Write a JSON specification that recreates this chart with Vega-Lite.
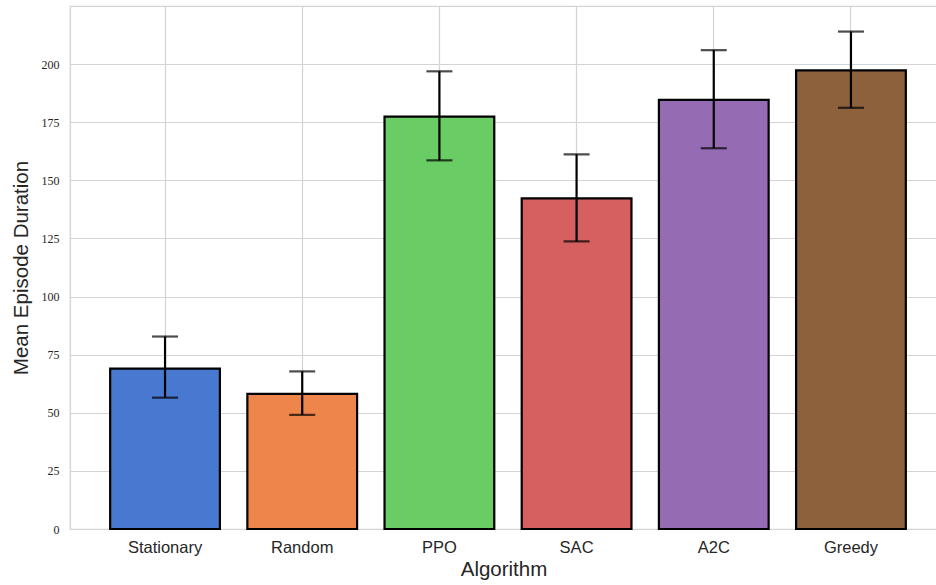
{
  "$schema": "https://vega.github.io/schema/vega-lite/v6.json",
  "width": 867,
  "height": 523,
  "autosize": {"type": "none"},
  "padding": {"left": 70, "top": 6, "right": 0, "bottom": 56},
  "background": "white",
  "config": {
    "view": {"stroke": "#d4d4d4", "strokeWidth": 1.2},
    "axis": {
      "domainColor": "#d4d4d4",
      "domainWidth": 1.2,
      "gridColor": "#d4d4d4",
      "gridWidth": 1.2,
      "ticks": false
    }
  },
  "data": {
    "values": [
      {"Algorithm": "Stationary", "mean": 69.0, "lo": 56.5, "hi": 82.8},
      {"Algorithm": "Random", "mean": 58.1, "lo": 49.1, "hi": 67.8},
      {"Algorithm": "PPO", "mean": 177.4, "lo": 158.6, "hi": 196.9},
      {"Algorithm": "SAC", "mean": 142.2, "lo": 123.7, "hi": 161.2},
      {"Algorithm": "A2C", "mean": 184.6, "lo": 163.8, "hi": 206.0},
      {"Algorithm": "Greedy", "mean": 197.3, "lo": 181.2, "hi": 214.0}
    ]
  },
  "encoding": {
    "x": {
      "field": "Algorithm",
      "type": "nominal",
      "sort": ["Stationary", "Random", "PPO", "SAC", "A2C", "Greedy"],
      "scale": {"paddingInner": 0.2, "paddingOuter": 0.26, "align": 0.563},
      "axis": {
        "title": "Algorithm",
        "labelAngle": 0,
        "labelFont": "Liberation Sans",
        "labelFontSize": 16.5,
        "labelColor": "#262626",
        "labelPadding": 10,
        "titleFont": "Liberation Sans",
        "titleFontSize": 20.5,
        "titleFontWeight": "normal",
        "titleColor": "#262626",
        "titlePadding": 4,
        "grid": true,
        "bandPosition": 0.5
      }
    }
  },
  "layer": [
    {
      "mark": {"type": "bar", "stroke": "black", "strokeWidth": 2.2},
      "encoding": {
        "y": {
          "field": "mean",
          "type": "quantitative",
          "scale": {"domain": [0, 225], "nice": false},
          "axis": {
            "title": "Mean Episode Duration",
            "values": [0, 25, 50, 75, 100, 125, 150, 175, 200],
            "labelFont": "Liberation Serif",
            "labelFontSize": 12,
            "labelColor": "#262626",
            "labelPadding": 11,
            "titleFont": "Liberation Sans",
            "titleFontSize": 20.5,
            "titleFontWeight": "normal",
            "titleColor": "#262626",
            "titlePadding": 10,
            "grid": true
          }
        },
        "fill": {
          "field": "Algorithm",
          "type": "nominal",
          "sort": ["Stationary", "Random", "PPO", "SAC", "A2C", "Greedy"],
          "scale": {"range": ["#4878d0", "#ee854a", "#6acc64", "#d65f5f", "#956cb4", "#8c613c"]},
          "legend": null
        }
      }
    },
    {
      "mark": {"type": "rule", "color": "black", "strokeWidth": 2.2},
      "encoding": {
        "y": {"field": "lo", "type": "quantitative"},
        "y2": {"field": "hi"}
      }
    },
    {
      "mark": {"type": "tick", "color": "black", "size": 26, "thickness": 2.2},
      "encoding": {"y": {"field": "lo", "type": "quantitative"}}
    },
    {
      "mark": {"type": "tick", "color": "black", "size": 26, "thickness": 2.2},
      "encoding": {"y": {"field": "hi", "type": "quantitative"}}
    }
  ]
}
